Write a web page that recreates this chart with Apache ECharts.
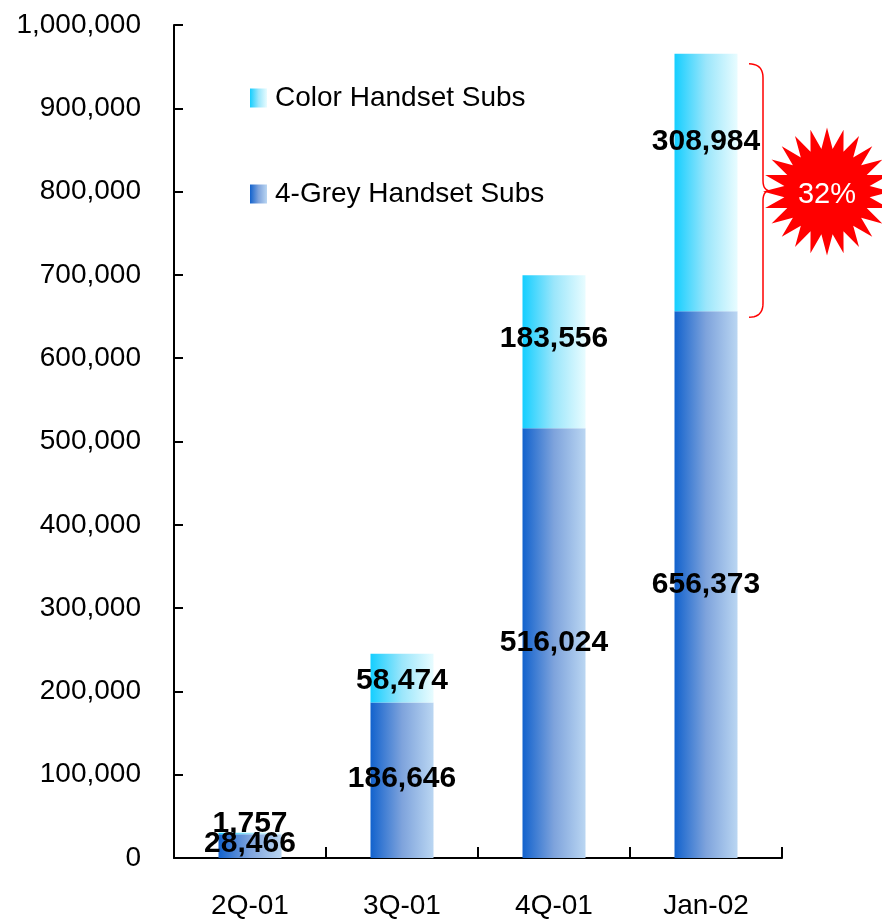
<!DOCTYPE html>
<html>
<head>
<meta charset="utf-8">
<script src="https://cdn.jsdelivr.net/npm/echarts@6/dist/echarts.min.js"></script>
<style>
  html, body { margin: 0; padding: 0; background: #fff; }
  #main { width: 882px; height: 920px; }
</style>
</head>
<body>
<div id="main"></div>
<script>
// Subscriber counts per period
const categories = ['2Q-01', '3Q-01', '4Q-01', 'Jan-02'];
const greySubs = [28466, 186646, 516024, 656373];
const colorSubs = [1757, 58474, 183556, 308984];
const seriesNames = ['Color Handset Subs', '4-Grey Handset Subs'];

// Vertical nudges for the value labels so they don't collide
const greyLabelShift = [-2, -2, 0, 0];
const colorLabelShift = [-10, 3, -13, -41];

const fmt = v => Number(v).toLocaleString('en-US');
const baseFont = 'Liberation Sans, Arial, sans-serif';

const greyFill = new echarts.graphic.LinearGradient(0, 0, 1, 0, [
  { offset: 0, color: '#1262CD' },
  { offset: 0.5, color: '#7EA3DC' },
  { offset: 1, color: '#BAD6F2' }
]);
const colorFill = new echarts.graphic.LinearGradient(0, 0, 1, 0, [
  { offset: 0, color: '#14CEFF' },
  { offset: 0.5, color: '#9BE6FB' },
  { offset: 1, color: '#E8FCFF' }
]);

function labelled(values, shifts) {
  return values.map((v, i) => ({ value: v, label: { offset: [0, shifts[i]] } }));
}

const barLabel = {
  show: true,
  position: 'inside',
  color: '#000',
  fontFamily: baseFont,
  fontWeight: 'bold',
  fontSize: 30,
  formatter: p => fmt(p.value)
};

const chart = echarts.init(document.getElementById('main'));
chart.setOption({
  animation: false,
  grid: { left: 174, right: 100, top: 25, bottom: 61 },
  legend: {
    orient: 'vertical',
    left: 250,
    top: 84,
    padding: 0,
    icon: 'rect',
    itemWidth: 17,
    itemHeight: 19,
    itemGap: 68,
    data: seriesNames,
    textStyle: { fontFamily: baseFont, fontSize: 28, color: '#000', padding: [0, 0, 0, 3] }
  },
  xAxis: {
    type: 'category',
    data: categories,
    axisLine: { lineStyle: { color: '#000', width: 2 } },
    axisTick: { show: true, inside: true, length: 11, lineStyle: { color: '#000', width: 2 } },
    axisLabel: { fontFamily: baseFont, fontSize: 28, color: '#000', margin: 34 }
  },
  yAxis: {
    type: 'value',
    min: 0,
    max: 1000000,
    interval: 100000,
    splitLine: { show: false },
    axisLine: { show: true, lineStyle: { color: '#000', width: 2 } },
    axisTick: { show: true, inside: true, length: 9, lineStyle: { color: '#000', width: 2 } },
    axisLabel: { fontFamily: baseFont, fontSize: 28, color: '#000', margin: 33, formatter: fmt }
  },
  series: [
    {
      name: seriesNames[1],
      type: 'bar',
      stack: 'subs',
      barWidth: 63,
      itemStyle: { color: greyFill },
      label: barLabel,
      data: labelled(greySubs, greyLabelShift)
    },
    {
      name: seriesNames[0],
      type: 'bar',
      stack: 'subs',
      barWidth: 63,
      itemStyle: { color: colorFill },
      label: barLabel,
      data: labelled(colorSubs, colorLabelShift)
    }
  ]
});

// Brace and starburst marking the colour share of the latest period
const last = categories.length - 1;
const total = greySubs[last] + colorSubs[last];
const share = Math.round(colorSubs[last] / total * 100);
const cx = chart.convertToPixel({ xAxisIndex: 0 }, categories[last]);
const yTop = chart.convertToPixel({ yAxisIndex: 0 }, total) + 10;
const yBot = chart.convertToPixel({ yAxisIndex: 0 }, greySubs[last]) + 6;
const yMid = (yTop + yBot) / 2;
const x0 = cx + 43, x1 = cx + 57, tip = cx + 62;

// sample a quadratic curve into points
function quad(p0, c, p1, n) {
  const out = [];
  for (let i = 0; i <= n; i++) {
    const t = i / n, u = 1 - t;
    out.push([u * u * p0[0] + 2 * u * t * c[0] + t * t * p1[0],
              u * u * p0[1] + 2 * u * t * c[1] + t * t * p1[1]]);
  }
  return out;
}
const bracePts = [].concat(
  quad([x0, yTop], [x1, yTop], [x1, yTop + 14], 10),
  quad([x1, yMid - 10], [x1, yMid - 2], [tip, yMid], 6),
  quad([tip, yMid], [x1, yMid + 2], [x1, yMid + 10], 6),
  quad([x1, yBot - 14], [x1, yBot], [x0, yBot], 10)
);

const starCx = cx + 121, starCy = yMid + 1;
const spikes = 24, rOut = 64, rIn = 43;
const starPts = [];
for (let i = 0; i < spikes * 2; i++) {
  const r = i % 2 === 0 ? rOut : rIn;
  const a = -Math.PI / 2 + i * Math.PI / spikes;
  starPts.push([starCx + r * Math.cos(a), starCy + r * Math.sin(a)]);
}

chart.setOption({
  graphic: [
    {
      type: 'polyline',
      shape: { points: bracePts },
      style: { fill: null, stroke: '#FF0000', lineWidth: 1.5 }
    },
    {
      type: 'polygon',
      shape: { points: starPts },
      style: { fill: '#FF0000', stroke: null }
    },
    {
      type: 'text',
      x: starCx,
      y: starCy + 3,
      style: {
        text: share + '%',
        fill: '#fff',
        font: '29px ' + baseFont,
        align: 'center',
        verticalAlign: 'middle'
      }
    }
  ]
});
</script>
</body>
</html>
